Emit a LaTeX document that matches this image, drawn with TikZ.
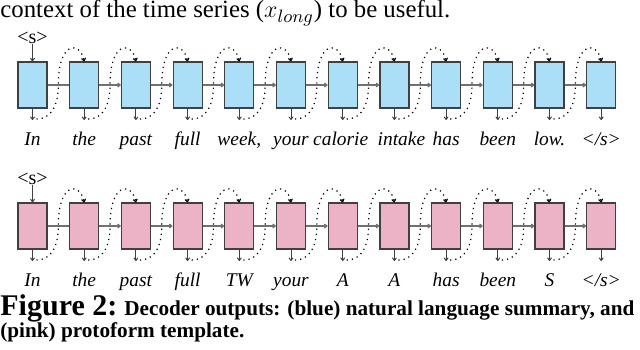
\documentclass[tikz,border=0pt]{standalone}
\usepackage{fontspec}
\setmainfont{Liberation Serif}
\usetikzlibrary{positioning,calc,arrows.meta}
\definecolor{cellblue}{HTML}{ABDFF8}
\definecolor{cellpink}{HTML}{ECB3C6}
\definecolor{cellline}{HTML}{404040}
\definecolor{linkgray}{HTML}{707070}
\tikzset{
  cell/.style={draw=cellline, line width=0.6pt, minimum width=14.5pt, minimum height=23pt, inner sep=0pt},
  flow/.style={draw=cellline, line width=0.5pt, -{To[length=1.8pt,width=2.4pt]}},
  link/.style={draw=linkgray, line width=0.6pt},
  feed/.style={dotted, line width=0.6pt, -{To[length=1.8pt,width=2.4pt]}},
  word/.style={font=\itshape\fontsize{9.7}{11}\selectfont, anchor=base, inner sep=0pt},
  token/.style={inner sep=0pt}
}

\begin{document}
\begin{tikzpicture}[x=0.5pt,y=-0.5pt]
  \useasboundingbox (0,0) rectangle (640,349);
  % running text above the figure
  \node[anchor=west, inner sep=0pt, font=\fontsize{12.4}{14}\selectfont] (ctx) at (0,13)
    {context of the time series ($x_{long}$) to be useful.};

  % blue row: natural language summary
  \foreach \w/\s [count=\i] in {In/0,the/0,past/0,full/0,{week,}/0,your/0,calorie/-1,intake/3.5,has/0,been/0,low./0,{</s>}/0} {
    \node[cell, fill=cellblue] (b\i) at ({32.5+51.7*(\i-1)},85) {};
    \coordinate (bd\i) at ({32.5+51.7*(\i-1)},120);
    \draw[flow] (b\i.south) -- (bd\i);
    \node[word, xshift=\s pt] (bw\i) at ({32.5+51.7*(\i-1)},145) {\w};
  }
  \node[token] (bs) at (32.5,38) {<s>};
  \draw[flow] (bs) -- (b1.north);
  \draw[link] (b1.east) -- (b2.west);
  \foreach \i [evaluate=\i as \j using int(\i+1)] in {2,...,11}
    \draw[link, -{To[length=1.8pt,width=2.4pt]}] (b\i.east) -- (b\j.west);
  \foreach \i [evaluate=\i as \j using int(\i+1)] in {1,...,11} {
    \coordinate (bg\i) at ($(b\i.east)!0.5!(b\j.west)$);
    \draw[feed] ($(bd\i)+(4,-1)$) .. controls +(15,0) and +(0,20) .. (bg\i)
      .. controls +(0,-45) and +(-4,-20) .. (b\j.north);
  }

  % pink row: protoform template
  \foreach \w [count=\i] in {In,the,past,full,TW,your,A,A,has,been,S,</s>} {
    \node[cell, fill=cellpink] (p\i) at ({32.5+51.7*(\i-1)},226) {};
    \coordinate (pd\i) at ({32.5+51.7*(\i-1)},261);
    \draw[flow] (p\i.south) -- (pd\i);
    \node[word] (pw\i) at ({32.5+51.7*(\i-1)},286) {\w};
  }
  \node[token] (ps) at (32.5,179) {<s>};
  \draw[flow] (ps) -- (p1.north);
  \draw[link] (p1.east) -- (p2.west);
  \foreach \i [evaluate=\i as \j using int(\i+1)] in {2,...,11}
    \draw[link, -{To[length=1.8pt,width=2.4pt]}] (p\i.east) -- (p\j.west);
  \foreach \i [evaluate=\i as \j using int(\i+1)] in {1,...,11} {
    \coordinate (pg\i) at ($(p\i.east)!0.5!(p\j.west)$);
    \draw[feed] ($(pd\i)+(4,-1)$) .. controls +(15,0) and +(0,20) .. (pg\i)
      .. controls +(0,-45) and +(-4,-20) .. (p\j.north);
  }

  % caption
  \node[anchor=west, inner sep=0pt, font=\bfseries\fontsize{10.6}{12}\selectfont] (cap1) at (0,308)
    {{\fontsize{15}{16}\selectfont Figure 2:} Decoder outputs: (blue) natural language summary, and};
  \node[anchor=west, inner sep=0pt, font=\bfseries\fontsize{10.6}{12}\selectfont] (cap2) at (0,332)
    {(pink) protoform template.};
\end{tikzpicture}
\end{document}
